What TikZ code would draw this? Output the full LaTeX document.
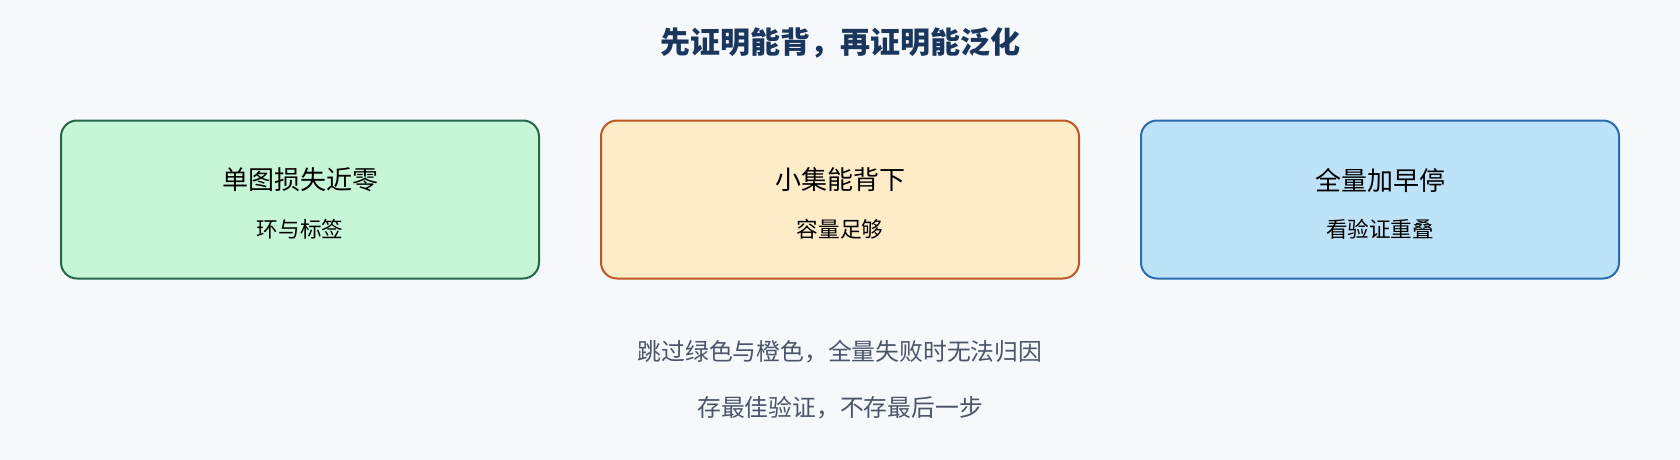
\documentclass[tikz,border=0pt]{standalone}
\usepackage{fontspec}
\setmainfont{Noto Sans CJK SC}
\usepackage{tikz}

\definecolor{bgcol}{HTML}{F6F9FC}
\definecolor{titlecol}{HTML}{1A365D}
\definecolor{notecol}{HTML}{4A5568}
\definecolor{greenfill}{HTML}{C6F6D5}
\definecolor{greenline}{HTML}{276749}
\definecolor{orangefill}{HTML}{FEEBC8}
\definecolor{orangeline}{HTML}{C05621}
\definecolor{bluefill}{HTML}{BEE3F8}
\definecolor{blueline}{HTML}{2B6CB0}

\tikzset{
  stagebox/.style={rectangle, rounded corners=16pt, line width=2pt, minimum width=478pt, minimum height=158pt, inner sep=0pt},
  headtext/.style={font=\fontsize{26}{30}\selectfont, text=black},
  subtext/.style={font=\fontsize{21.6}{25}\selectfont, text=black},
  notetext/.style={font=\fontsize{23.8}{28}\selectfont, text=notecol}
}

\begin{document}
\begin{tikzpicture}[x=1pt, y=-1pt]
\fill[bgcol] (0,0) rectangle (1680,460);

\node[font=\fontsize{30}{36}\selectfont\bfseries, text=titlecol] (title) at (840,43) {先证明能背，再证明能泛化};

\node[stagebox, draw=greenline, fill=greenfill] (memo) at (300,199.5) {};
\node[headtext] (memohead) at (300,180) {单图损失近零};
\node[subtext] (memosub) at (300,229) {环与标签};

\node[stagebox, draw=orangeline, fill=orangefill] (small) at (840,199.5) {};
\node[headtext] (smallhead) at (840,180) {小集能背下};
\node[subtext] (smallsub) at (840,229) {容量足够};

\node[stagebox, draw=blueline, fill=bluefill] (full) at (1380,199.5) {};
\node[headtext] (fullhead) at (1380,180) {全量加早停};
\node[subtext] (fullsub) at (1380,229) {看验证重叠};

\node[notetext] (skip) at (840,352) {跳过绿色与橙色，全量失败时无法归因};
\node[notetext] (keep) at (840,408) {存最佳验证，不存最后一步};
\end{tikzpicture}
\end{document}
